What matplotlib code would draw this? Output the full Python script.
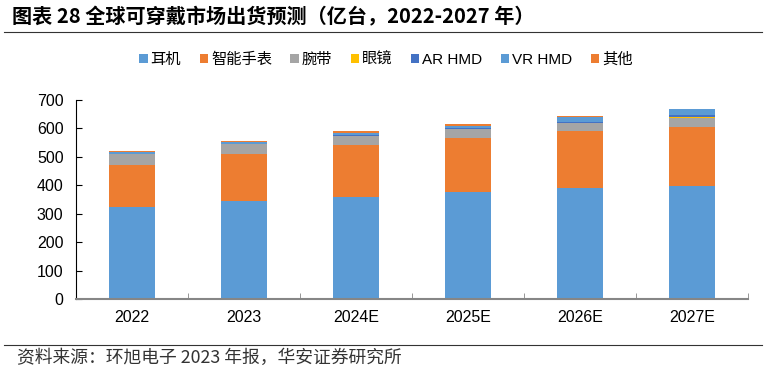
import matplotlib
matplotlib.use("Agg")
import matplotlib.pyplot as plt
from matplotlib.patches import Patch
import numpy as np

plt.rcParams['font.family'] = ['Liberation Sans', 'Noto Sans CJK SC', 'DejaVu Sans']

categories = ["2022", "2023", "2024E", "2025E", "2026E", "2027E"]
series_names = ["耳机", "智能手表", "腕带", "眼镜", "AR HMD", "VR HMD", "其他"]
earphones = [322, 344, 358, 375, 389, 398]
smartwatch = [150, 166, 182, 189, 199, 205]
wristband = [36, 33, 31, 31, 29, 32]
glasses = [0.5, 0.5, 1, 1.5, 1, 2]
ar_hmd = [0.5, 1, 2, 2, 2, 8]
vr_hmd = [7, 7, 9, 9, 17, 20]
other = [3, 4, 5, 5, 4, 3]
colors = ["#5B9BD5", "#ED7D31", "#A5A5A5", "#FFC000", "#4472C4", "#5B9BD5", "#ED7D31"]

series = [earphones, smartwatch, wristband, glasses, ar_hmd, vr_hmd, other]

fig = plt.figure(figsize=(7.67, 3.75), dpi=100)
ax = fig.add_axes([76 / 767, 1 - 299.3 / 375, (748 - 76) / 767, (299.3 - 99.5) / 375])

x = np.arange(len(categories))
bottom = np.zeros(len(categories))
for name, vals, c in zip(series_names, series, colors):
    ax.bar(x, vals, width=0.41, bottom=bottom, color=c, label=name, linewidth=0)
    bottom += np.array(vals)

ax.set_xlim(-0.5, len(categories) - 0.5)
ax.set_ylim(0, 700)
ax.set_yticks(range(0, 701, 100))
ax.set_xticks(x)
ax.set_xticklabels(categories)
ax.set_xticks(np.arange(-0.5, len(categories), 1), minor=True)
ax.tick_params(axis='x', which='major', length=0, pad=8, labelsize=11.5)
ax.tick_params(axis='x', which='minor', length=4, direction='in', color='#868686')
ax.tick_params(axis='y', length=4, direction='in', labelsize=11.5, pad=9)
for s in ['top', 'right']:
    ax.spines[s].set_visible(False)
ax.spines['left'].set_color('black')
ax.spines['left'].set_linewidth(0.8)
ax.spines['bottom'].set_color('#868686')
ax.spines['bottom'].set_linewidth(1.5)

handles = [Patch(facecolor=c, edgecolor='none') for c in colors]
fig.legend(handles, series_names, loc='center', bbox_to_anchor=(386 / 767, 1 - 60 / 375),
           ncol=7, frameon=False, fontsize=11, handlelength=0.55, handleheight=0.55,
           handletextpad=0.2, columnspacing=1.2)

fig.text(12 / 767, 1 - 17 / 375, "图表 28 全球可穿戴市场出货预测（亿台，2022-2027 年）",
         fontsize=14.5, fontweight='bold', va='center', ha='left',
         family=['Noto Sans CJK SC', 'DejaVu Sans'])
fig.add_artist(plt.Line2D([4 / 767, 762 / 767], [1 - 32 / 375, 1 - 32 / 375], color='#333333', linewidth=0.8))
fig.add_artist(plt.Line2D([4 / 767, 762 / 767], [1 - 345 / 375, 1 - 345 / 375], color='#333333', linewidth=0.8))
fig.text(17 / 767, 1 - 358 / 375, "资料来源：环旭电子 2023 年报，华安证券研究所",
         fontsize=12.8, va='center', ha='left', color='#333333',
         family=['Noto Sans CJK SC', 'DejaVu Sans'])

fig.savefig("out.png", dpi=100)
